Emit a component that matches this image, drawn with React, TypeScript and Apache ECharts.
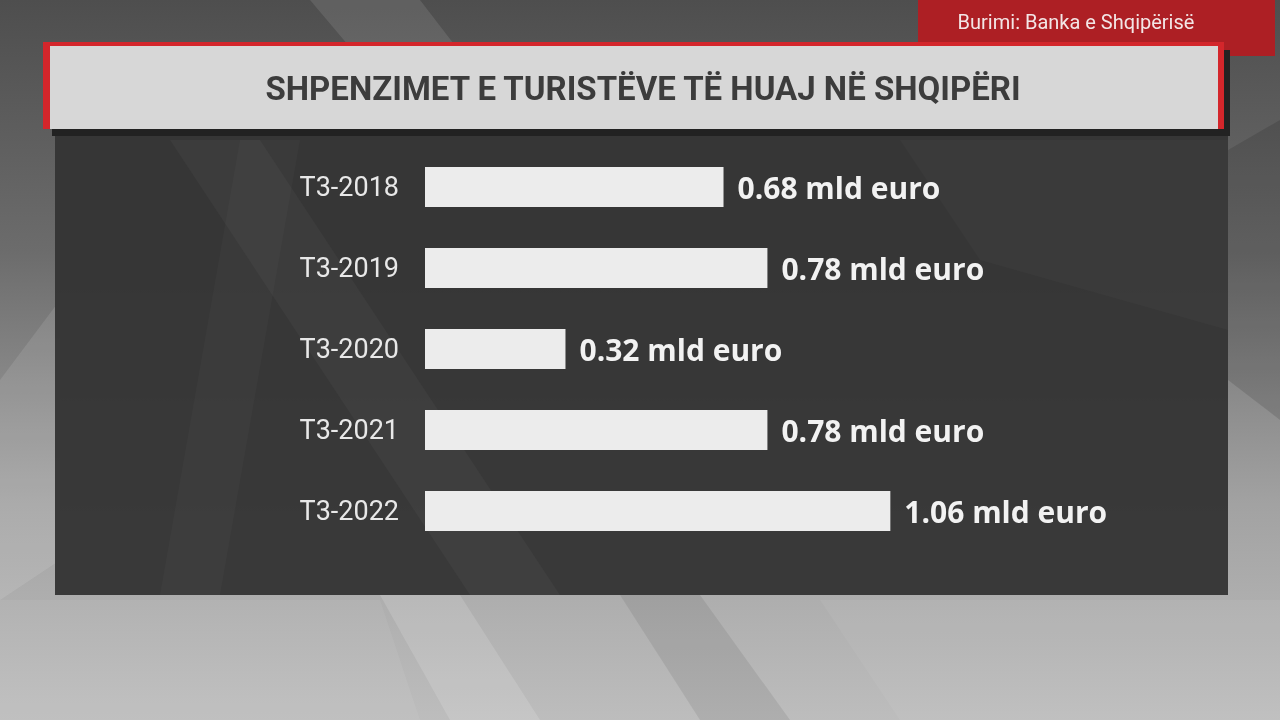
import React, { useEffect, useRef } from "react";
import * as echarts from "echarts";

const categories = ["T3-2018", "T3-2019", "T3-2020", "T3-2021", "T3-2022"];
const values = [0.68, 0.78, 0.32, 0.78, 1.06];
const unit = "mld euro";
const title = "SHPENZIMET E TURISTËVE TË HUAJ NË SHQIPËRI";
const source = "Burimi: Banka e Shqipërisë";

export default function App() {
  const ref = useRef<HTMLDivElement>(null);
  useEffect(() => {
    if (!ref.current) return;
    const chart = echarts.init(ref.current, null, { renderer: "svg" });
    const bgShapes: any[] = [
      { type: "polygon", z: -9, shape: { points: [[310, 0], [420, 0], [520, 130], [420, 130]] }, style: { fill: "rgba(255,255,255,0.10)" } },
      { type: "polygon", z: -9, shape: { points: [[0, 380], [60, 300], [60, 560], [0, 600]] }, style: { fill: "rgba(255,255,255,0.10)" } },
      { type: "polygon", z: -9, shape: { points: [[380, 595], [460, 595], [540, 720], [450, 720]] }, style: { fill: "rgba(255,255,255,0.14)" } },
      { type: "polygon", z: -9, shape: { points: [[620, 595], [700, 595], [790, 720], [700, 720]] }, style: { fill: "rgba(0,0,0,0.08)" } },
      { type: "polygon", z: -9, shape: { points: [[0, 600], [380, 600], [420, 720], [0, 720]] }, style: { fill: "rgba(255,255,255,0.06)" } },
      { type: "polygon", z: -9, shape: { points: [[1228, 150], [1280, 120], [1280, 420], [1228, 380]] }, style: { fill: "rgba(0,0,0,0.12)" } },
      { type: "polygon", z: -9, shape: { points: [[820, 600], [1280, 600], [1280, 720], [900, 720]] }, style: { fill: "rgba(255,255,255,0.05)" } },
    ];
    const panelShapes: any[] = [
      { type: "polygon", z: -5, shape: { points: [[160, 595], [240, 140], [300, 140], [220, 595]] }, style: { fill: "rgba(255,255,255,0.025)" } },
      { type: "polygon", z: -5, shape: { points: [[170, 140], [260, 140], [560, 595], [470, 595]] }, style: { fill: "rgba(255,255,255,0.03)" } },
      { type: "polygon", z: -5, shape: { points: [[900, 140], [1228, 140], [1228, 330], [980, 260]] }, style: { fill: "rgba(255,255,255,0.025)" } },
    ];
    chart.setOption({
      animation: false,
      graphic: [
        {
          type: "rect", z: -10, shape: { x: 0, y: 0, width: 1280, height: 720 },
          style: {
            fill: new echarts.graphic.LinearGradient(0, 0, 0, 1, [
              { offset: 0, color: "#4e4e4e" },
              { offset: 0.35, color: "#6c6c6c" },
              { offset: 0.7, color: "#a2a2a2" },
              { offset: 1, color: "#bdbdbd" },
            ]),
          },
        },
        ...bgShapes,
        { type: "rect", z: -6, shape: { x: 55, y: 130, width: 1173, height: 465 }, style: { fill: "rgba(52,52,52,0.96)" } },
        ...panelShapes,
        { type: "rect", z: -4, shape: { x: 918, y: 0, width: 357, height: 56 }, style: { fill: "#ad1f24" } },
        {
          type: "text", z: 10, x: 1076, y: 22,
          style: { text: source, fill: "#f3e6e6", font: "20px Roboto", align: "center", verticalAlign: "middle" },
        },
        { type: "rect", z: -3, shape: { x: 52, y: 50, width: 1178, height: 86 }, style: { fill: "#222222" } },
        { type: "rect", z: -2, shape: { x: 43, y: 42, width: 1181, height: 87 }, style: { fill: "#d3262b" } },
        { type: "rect", z: -1, shape: { x: 50, y: 46, width: 1168, height: 83 }, style: { fill: "#d7d7d7" } },
        {
          type: "text", z: 10, x: 643, y: 88,
          style: { text: title, fill: "#3c3c3c", font: "bold 33px Roboto", align: "center", verticalAlign: "middle" },
        },
      ],
      grid: { left: 425, width: 658.5, top: 146.5, height: 405 },
      xAxis: { type: "value", min: 0, max: 1.5, show: false, splitLine: { show: false } },
      yAxis: {
        type: "category",
        data: categories,
        inverse: true,
        axisLine: { show: false },
        axisTick: { show: false },
        axisLabel: { margin: 26, color: "#e8e8e8", fontFamily: "Roboto", fontSize: 27 },
      },
      series: [
        {
          type: "bar",
          data: values,
          barWidth: 40,
          itemStyle: { color: "#ececec" },
          label: {
            show: true,
            position: "right",
            distance: 14,
            formatter: (p: any) => `${p.value.toFixed(2)} ${unit}`,
            color: "#f2f2f2",
            fontFamily: "Open Sans",
            fontWeight: "bold",
            fontSize: 30,
          },
        },
      ],
    });
    return () => chart.dispose();
  }, []);
  return <div ref={ref} style={{ position: "fixed", left: 0, top: 0, width: 1280, height: 720 }} />;
}
